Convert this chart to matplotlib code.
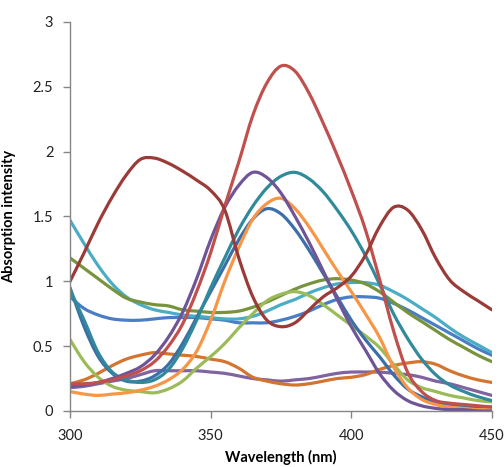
import numpy as np
import matplotlib
matplotlib.use("Agg")
import matplotlib.pyplot as plt
from matplotlib.path import Path
from matplotlib.patches import PathPatch

plt.rcParams['font.family'] = ['Lato', 'DejaVu Sans']

# wavelength grid (nm)
wl = list(range(300, 451, 5))

# absorption spectra
dark_red = [1.00, 1.22, 1.45, 1.65, 1.82, 1.94, 1.95, 1.91, 1.85, 1.78, 1.70, 1.55, 1.18, 0.88, 0.70,
            0.65, 0.68, 0.78, 0.88, 0.95, 1.04, 1.20, 1.42, 1.57, 1.55, 1.40, 1.18, 1.01, 0.92, 0.85, 0.78]
red = [0.21, 0.21, 0.22, 0.24, 0.27, 0.31, 0.38, 0.50, 0.67, 0.92, 1.22, 1.58, 1.92, 2.28, 2.53,
       2.66, 2.62, 2.45, 2.22, 1.97, 1.70, 1.40, 1.02, 0.62, 0.30, 0.15, 0.08, 0.06, 0.05, 0.04, 0.03]
purple = [0.19, 0.20, 0.22, 0.25, 0.29, 0.34, 0.43, 0.57, 0.76, 1.02, 1.32, 1.57, 1.74, 1.84, 1.80,
          1.68, 1.50, 1.30, 1.08, 0.86, 0.65, 0.47, 0.29, 0.16, 0.08, 0.04, 0.02, 0.01, 0.01, 0.00, 0.00]
teal = [0.93, 0.70, 0.45, 0.30, 0.24, 0.22, 0.24, 0.32, 0.48, 0.70, 0.95, 1.18, 1.40, 1.58, 1.72,
        1.81, 1.84, 1.79, 1.69, 1.55, 1.39, 1.20, 0.98, 0.75, 0.56, 0.40, 0.28, 0.20, 0.15, 0.11, 0.08]
dark_blue = [0.95, 0.65, 0.42, 0.29, 0.23, 0.23, 0.27, 0.36, 0.52, 0.72, 0.92, 1.12, 1.32, 1.48, 1.56,
             1.52, 1.40, 1.24, 1.06, 0.88, 0.70, 0.55, 0.42, 0.28, 0.17, 0.11, 0.07, 0.05, 0.04, 0.03, 0.03]
orange = [0.15, 0.13, 0.12, 0.13, 0.14, 0.16, 0.19, 0.24, 0.32, 0.46, 0.70, 1.00, 1.26, 1.48, 1.60,
          1.64, 1.56, 1.42, 1.25, 1.08, 0.92, 0.75, 0.57, 0.34, 0.18, 0.09, 0.05, 0.03, 0.02, 0.01, 0.01]
light_green = [0.55, 0.38, 0.26, 0.19, 0.16, 0.15, 0.14, 0.17, 0.23, 0.33, 0.42, 0.52, 0.64, 0.75, 0.85,
               0.90, 0.92, 0.89, 0.82, 0.74, 0.66, 0.58, 0.49, 0.36, 0.24, 0.18, 0.15, 0.12, 0.10, 0.08, 0.07]
olive = [1.18, 1.10, 1.02, 0.94, 0.87, 0.84, 0.82, 0.81, 0.78, 0.77, 0.76, 0.76, 0.77, 0.80, 0.84,
         0.89, 0.94, 0.98, 1.01, 1.02, 1.01, 0.98, 0.92, 0.84, 0.76, 0.69, 0.62, 0.55, 0.49, 0.43, 0.38]
cyan = [1.47, 1.29, 1.12, 0.98, 0.88, 0.82, 0.78, 0.76, 0.74, 0.73, 0.72, 0.71, 0.71, 0.73, 0.77,
        0.82, 0.86, 0.91, 0.95, 0.98, 0.99, 0.99, 0.97, 0.92, 0.86, 0.79, 0.72, 0.64, 0.57, 0.51, 0.45]
blue = [0.88, 0.79, 0.74, 0.71, 0.70, 0.70, 0.71, 0.72, 0.72, 0.72, 0.71, 0.70, 0.68, 0.68, 0.68,
        0.70, 0.73, 0.77, 0.82, 0.86, 0.88, 0.88, 0.87, 0.83, 0.78, 0.72, 0.66, 0.60, 0.54, 0.48, 0.43]
dark_orange = [0.21, 0.24, 0.29, 0.35, 0.40, 0.43, 0.45, 0.44, 0.43, 0.42, 0.40, 0.38, 0.33, 0.26, 0.23,
               0.21, 0.20, 0.21, 0.23, 0.25, 0.26, 0.28, 0.32, 0.35, 0.37, 0.38, 0.36, 0.31, 0.27, 0.24, 0.22]
light_purple = [0.18, 0.19, 0.21, 0.23, 0.25, 0.28, 0.31, 0.31, 0.31, 0.31, 0.30, 0.29, 0.27, 0.25, 0.24,
                0.23, 0.24, 0.25, 0.27, 0.29, 0.30, 0.30, 0.30, 0.29, 0.28, 0.26, 0.23, 0.21, 0.18, 0.15, 0.12]

series = [
    (light_purple, '#8064A2'),
    (dark_orange, '#D37530'),
    (blue, '#4A7EC4'),
    (cyan, '#4BACC6'),
    (olive, '#77933C'),
    (light_green, '#9BBB59'),
    (dark_blue, '#3C6EA8'),
    (teal, '#31899C'),
    (orange, '#F79646'),
    (purple, '#6F5597'),
    (red, '#C0504D'),
    (dark_red, '#9B3B38'),
]


def smooth_path(x, y):
    # Excel-style smoothed line: cubic Bezier segments through every point
    p = np.column_stack([x, y]).astype(float)
    ext = np.vstack([p[0], p, p[-1]])
    verts = [p[0]]
    codes = [Path.MOVETO]
    for i in range(len(p) - 1):
        p0, p1, p2, p3 = ext[i], ext[i + 1], ext[i + 2], ext[i + 3]
        verts += [p1 + (p2 - p0) / 6.0, p2 - (p3 - p1) / 6.0, p2]
        codes += [Path.CURVE4] * 3
    return Path(verts, codes)


fig = plt.figure(figsize=(5.04, 4.67), dpi=100)
ax = fig.add_axes([0.139, 0.12, 0.837, 0.833])

for ys, col in series:
    ax.add_patch(PathPatch(smooth_path(wl, ys), facecolor='none', edgecolor=col,
                           lw=2.3, joinstyle='round', capstyle='round'))

ax.set_xlim(300, 450)
ax.set_ylim(0, 3)
ax.set_xticks([300, 350, 400, 450])
ax.set_yticks([0, 0.5, 1, 1.5, 2, 2.5, 3])
ax.set_yticklabels(['0', '0.5', '1', '1.5', '2', '2.5', '3'])

for s in ['top', 'right']:
    ax.spines[s].set_visible(False)
for s in ['left', 'bottom']:
    ax.spines[s].set_color('#868686')
    ax.spines[s].set_linewidth(1.0)
ax.tick_params(axis='both', direction='out', length=5, width=1, color='#868686',
               labelsize=10.5, labelcolor='#222222')
ax.tick_params(axis='y', pad=7)
ax.tick_params(axis='x', pad=8)

ax.set_xlabel('Wavelength (nm)', fontsize=10.5, fontweight='bold', labelpad=5)
ax.set_ylabel('Absorption intensity', fontsize=10.5, fontweight='bold', labelpad=12)

fig.savefig('out.png', dpi=100)
